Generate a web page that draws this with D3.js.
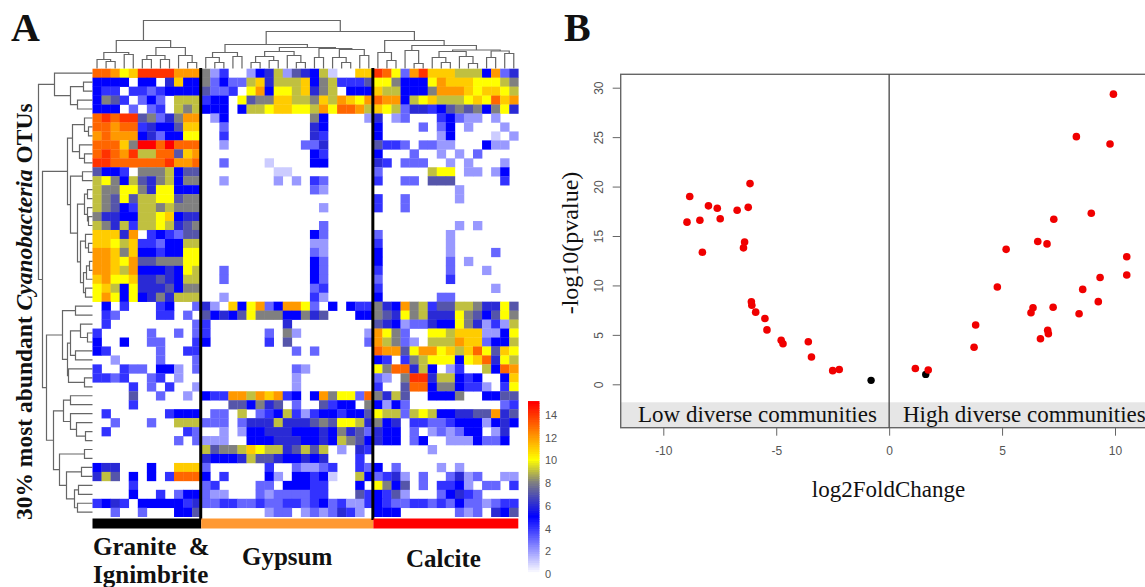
<!DOCTYPE html>
<html>
<head>
<meta charset="utf-8">
<style>
  body { margin: 0; background: #fff; }
  svg { display: block; }
  .serif { font-family: "Liberation Serif", serif; fill: #111; }
  .sans { font-family: "Liberation Sans", sans-serif; fill: #555; font-size: 12px; }
</style>
<script src="https://cdn.jsdelivr.net/npm/d3@7"></script>
</head>
<body>
<svg id="figure" width="1145" height="587">
  <defs>
    <filter id="soft" x="0" y="0" width="100%" height="100%">
      <feGaussianBlur stdDeviation="0.45"></feGaussianBlur>
    </filter>
  </defs>
</svg>
<script>
// Heatmap values, one hex digit per cell (0-15), one string per OTU row
const graniteRows = [
  "ddcabeeeeccc", "555505506b55", "544044345555", "587403530999", "555030340989",
  "dedee78368cc", "ddcdd46557bb", "cdccc56355aa", "dddb8ffdfddd", "dedce99dd7bc",
  "eeddddddeccd", "755408889577", "9a8597689588", "988aa86aa555", "987a799aa788",
  "987549989888", "8665599ab566", "9869499a9678", "bbb6c0454377", "bba9b4435599",
  "ccb8b55455aa", "ccbac77888aa", "ccb9c55565a9", "bcaab6676599", "ab95a6667588",
  "aca5a5686999", "050400045003", "043000044030", "040000000003", "400000300303",
  "500500330004", "540000030044", "002000030003", "400433055203", "443400340200",
  "000040304002", "000070030020", "000040000000", "040000004555", "003000300999",
  "040000000043", "000000000303", "000000000000", "000000000000", "566000500bbb",
  "697050504ddd", "000040000000", "000050040355", "456405555546", "003003000557"
];
const gypsumRows = [
  "82400256927659100bb", "835339b6999b5894447", "73340ac5aa9b6890555", "4550a788bb998b9cbac", "5550599abbaa9caddc9",
  "0250000000008500002", "0030000000006500000", "0040000000006400000", "0020000000033600000", "0000000000005400000",
  "0030000100005500000", "0000000011000000000", "0020000020204300000", "0000000000003200000", "0000000000000000000",
  "0000000000000200000", "0000000000000000000", "0000000000000300000", "0000000000005300000", "0000000000002200000",
  "0000000000003200000", "0000000000005300000", "0030000000005300000", "0030000000005300000", "0000000000003400000",
  "0020000000004200000", "620b5ac35cca3050544", "75657a8885586700055", "4000000006000000000", "4000000308200000002",
  "5000000407000000003", "0000000000303000000", "0000000000000000000", "0000000000320000000", "0000000000200000000",
  "0000000000200000000", "544cc9cbc4505c8aa3d", "0007758670300745508", "0330903459424554557", "333036669666787aa96",
  "0020255666555658673", "2220055566655659875", "97889ba996797902064", "6555697765565600040", "3000000400322340043",
  "5040000520554510095", "3400003305554400050", "3220003233334400074", "3344334334434534224", "0000000233023236420"
];
const calciteRows = [
  "eda3cebbb9995c36", "aa8555acbbbaaa98", "b995558cccbabba9", "dcc59ab999abadbc", "ba936645787858a6",
  "6023000453220200", "5000030350200020", "5000000250000102", "7443033220005220", "5000300202030000",
  "6403330020200020", "3000009aa0220250", "4003307770000040", "0000000002000000", "4003000002000000",
  "4003000000000000", "0000000000000000", "0000000002020000", "3000000020000000", "4000000020000000",
  "5000000020000300", "5000000030200000", "4000000030002000", "3000000040000000", "4000000000000200",
  "5000000330000000", "865c8947799866a7", "876a89666a8757a8", "765233655a862429", "ca8300aa9bbb225a",
  "c98320999cbb3559", "dcc7accab9bda7ba", "540489aaa5abd6a9", "a8dd6950240095dc", "3208ee699545005b",
  "4007dd588544204a", "8697005558005577", "5253000000000034", "a9939a9556677c67", "8560443345552565",
  "6550302323550260", "6550350022253350", "0000002000000000", "0000000000000000", "5030000202000000",
  "3462030036230022", "a857030445203304", "5472000356430000", "5433443435332344", "5550000003230657"
];

// Dendrograms: [height, left, right], 0 is a leaf. Leaves go in heatmap order
const graniteTree = [28, [16, [9, 0, [7, 0, 0]], [14, 0, 0]], [21, [13, [9, 0, 0], [9, 0, 0]], [13, 0, [6, 0, 0]]]];
const gypsumTree = [24,
  [16, [11, 0, [6, 0, 0]], [12, 0, 0]],
  [21,
    [17, [12, [6, 0, 0], [8, 0, 0]], [13, 0, [6, 0, 0]]],
    [20, [11, 0, 0], [19, [11, 0, [6, 0, 0]], [13, 0, 0]]]]];
const calciteTree = [28,
  [16, 0, [8, 0, 0]],
  [23,
    [18, 0, [5, 0, 0]],
    [18.5,
      [17, [11, 0, [6, 0, 0]], [12, 0, [5, 0, 0]]],
      [17.5, [11, 0, 0], [15, 0, 0]]]]];
const columnTree = [48, graniteTree, [37, gypsumTree, calciteTree]];

const topRowsTree = [38, 0, [22, [9, 0, 0], [15, 0, 0]]];
const middleRowsTree = [25,
  [20, [8, 0, [4, 0, 0]], [13, 0, [8, 0, 0]]],
  [22, [10, 0, 0],
    [15,
      [8, [5, 0, 0], [5, 0, [4, 0, 0]]],
      [12, [7, 0, [4, 0, 0]], [9, [6, [3, 0, 0], 0], [7, 0, 0]]]]]];
const lowerRowsTree = [46,
  [30, [17, 0, 0], [25, [22, [12, 0, [5, 0, 0]], [17, 0, 0]], [24, 0, [8, 0, 0]]]],
  [39,
    [29, [22, 0, 0], [22, 0, [16, 0, [7, 0, 0]]]],
    [33, [8, 0, 0], [26, [11, 0, 0], [18, [14, 0, 0], [15, 0, 0]]]]]];
const rowTree = [54, topRowsTree, [50, middleRowsTree, lowerRowsTree]];

const legendTicks = [0, 2, 4, 6, 8, 10, 12, 14];

// Panel B, volcano plot
const redFold = [-8.95, -8.83, -8.38, -8.27, -8.0, -7.61, -7.48, -6.73, -6.24, -6.16, -6.4, -6.45,
  -6.1, -6.08, -5.91, -5.5, -5.41, -4.78, -4.7, -3.58, -3.44, -2.5, -2.21,
  9.93, 8.29, 9.78, 8.95, 7.29, 6.58, 6.99, 5.18, 10.52, 10.52, 9.34, 4.79, 8.57, 9.26,
  6.37, 6.28, 7.26, 8.41, 3.83, 3.76, 7.02, 7.05, 6.7, 1.16, 1.73];
const redP = [16.4, 19.0, 16.6, 13.35, 18.05, 17.8, 16.75, 17.6, 17.9, 20.3, 14.4, 13.8,
  8.35, 8.0, 7.3, 6.65, 5.5, 4.45, 4.1, 4.3, 2.76, 1.38, 1.5,
  29.35, 25.05, 24.3, 17.3, 16.7, 14.45, 14.2, 13.65, 12.9, 11.05, 10.8, 9.84, 9.6, 8.36,
  7.75, 7.24, 7.8, 7.14, 6.0, 3.74, 5.46, 5.12, 4.6, 1.6, 1.44];
const blackFold = [-0.8, 1.62];
const blackP = [0.4, 1.0];
const foldTicks = [-10, -5, 0, 5, 10];
const pTicks = [0, 5, 10, 15, 20, 25, 30];

const svg = d3.select("#figure");

// Panel letters
svg.append("text").attr("class", "serif").attr("x", 11).attr("y", 41)
  .style("font-size", "40px").style("font-weight", "bold").text("A");
svg.append("text").attr("class", "serif").attr("x", 564).attr("y", 41)
  .style("font-size", "40px").style("font-weight", "bold").text("B");

// ---------- Panel A ----------
const matrix = graniteRows.map((r, i) => (r + gypsumRows[i] + calciteRows[i]).split("").map(c => parseInt(c, 16)));
const nCols = matrix[0].length;
const nRows = matrix.length;

const colScale = d3.scaleBand().domain(d3.range(nCols)).range([92.5, 518.3]);
const rowScale = d3.scaleBand().domain(d3.range(nRows)).range([68.7, 516.7]);
const heatColor = d3.scaleLinear()
  .domain([0, 5, 8, 10, 15])
  .range(["#ffffff", "#0000ff", "#808080", "#ffff00", "#ff0000"]);

const cells = matrix.flatMap((row, r) => row.map((v, c) => ({ r, c, v })));
svg.append("g").attr("filter", "url(#soft)").selectAll("rect")
  .data(cells.filter(d => d.v > 0))
  .enter()
  .append("rect")
  .attr("x", d => colScale(d.c))
  .attr("y", d => rowScale(d.r))
  .attr("width", colScale.bandwidth() + 0.3)
  .attr("height", rowScale.bandwidth() + 0.3)
  .attr("fill", d => heatColor(d.v));

// Walk a dendrogram and give back one path per merge
function treeSegments(tree, leafPos, heightPos, horizontal) {
  let leaf = 0;
  const segments = [];
  function walk(node) {
    if (node === 0) return { pos: leafPos(leaf++), h: 0 };
    const a = walk(node[1]);
    const b = walk(node[2]);
    const pts = [[a.pos, a.h], [a.pos, node[0]], [b.pos, node[0]], [b.pos, b.h]];
    segments.push(pts.map(p => horizontal ? [heightPos(p[1]), p[0]] : [p[0], heightPos(p[1])]));
    return { pos: (a.pos + b.pos) / 2, h: node[0] };
  }
  walk(tree);
  return segments;
}

const colHeight = d3.scaleLinear().domain([0, 48]).range([68.5, 20.5]);
const rowHeight = d3.scaleLinear().domain([0, 54]).range([92.5, 38.5]);
const segLine = d3.line();

const topSegs = treeSegments(columnTree, i => colScale(i) + colScale.bandwidth() / 2, colHeight, false);
const leftSegs = treeSegments(rowTree, i => rowScale(i) + rowScale.bandwidth() / 2, rowHeight, true);
svg.append("g").selectAll("path")
  .data(topSegs.concat(leftSegs))
  .enter()
  .append("path")
  .attr("d", segLine)
  .attr("fill", "none")
  .attr("stroke", "#666")
  .attr("stroke-width", 1.2);

// Rock type bar under the heatmap and the separators
const groups = [
  { size: graniteRows[0].length, color: "#000000" },
  { size: gypsumRows[0].length, color: "#ff9933" },
  { size: calciteRows[0].length, color: "#ff0000" }
];
let firstCol = 0;
groups.forEach((g, i) => {
  const x0 = colScale(firstCol);
  firstCol += g.size;
  const x1 = firstCol < nCols ? colScale(firstCol) : colScale.range()[1];
  svg.append("rect").attr("x", x0).attr("y", 518.5).attr("width", x1 - x0).attr("height", 10).attr("fill", g.color);
  if (firstCol < nCols) {
    svg.append("line")
      .attr("x1", x1 - 0.5).attr("x2", x1 - 0.5)
      .attr("y1", 68).attr("y2", 520)
      .attr("stroke", "#000").attr("stroke-width", 3);
  }
});

// Colour key
const legendY = d3.scaleLinear().domain([0, 14]).range([574, 415]);
svg.append("g").selectAll("rect")
  .data(d3.range(0, 15.2, 0.2))
  .enter()
  .append("rect")
  .attr("x", 528)
  .attr("y", d => legendY(d) - 2.6)
  .attr("width", 11.5)
  .attr("height", 3)
  .attr("fill", d => heatColor(d));
const legendAxis = svg.append("g").attr("class", "sans")
  .attr("transform", "translate(541,0)")
  .call(d3.axisRight(legendY).tickValues(legendTicks).tickSize(0).tickPadding(4));
legendAxis.select(".domain").remove();
legendAxis.selectAll("text").attr("fill", "#555").style("font-size", "11px");

// Panel A text
svg.append("text").attr("class", "serif")
  .attr("transform", "translate(32,520) rotate(-90)")
  .style("font-size", "23.5px").style("font-weight", "bold")
  .call(t => {
    t.append("tspan").text("30% most abundant ");
    t.append("tspan").style("font-style", "italic").text("Cyanobacteria");
    t.append("tspan").text(" OTUs");
  });

const groupLabels = [
  { text: "Granite  &", x: 93, y: 555 },
  { text: "Ignimbrite", x: 93, y: 583 },
  { text: "Gypsum", x: 242, y: 565 },
  { text: "Calcite", x: 406, y: 567 }
];
svg.append("g").selectAll("text")
  .data(groupLabels)
  .enter()
  .append("text")
  .attr("class", "serif")
  .attr("x", d => d.x)
  .attr("y", d => d.y)
  .style("font-size", "25px")
  .style("font-weight", "bold")
  .style("white-space", "pre")
  .text(d => d.text);

// ---------- Panel B ----------
const x = d3.scaleLinear().domain([-10, 10]).range([663.3, 1115]);
const y = d3.scaleLinear().domain([0, 30]).range([384.3, 87.7]);
const plotLeft = 620.7, plotTop = 74.3, plotBottom = 427.7, plotRight = 1147;

svg.append("rect")
  .attr("x", plotLeft).attr("y", 402.3)
  .attr("width", plotRight - plotLeft).attr("height", plotBottom - 402.3)
  .attr("fill", "#e6e6e6");

svg.append("rect")
  .attr("x", plotLeft).attr("y", plotTop)
  .attr("width", plotRight - plotLeft).attr("height", plotBottom - plotTop)
  .attr("fill", "none").attr("stroke", "#666").attr("stroke-width", 1.4);

svg.append("line")
  .attr("x1", x(0)).attr("x2", x(0))
  .attr("y1", plotTop).attr("y2", plotBottom)
  .attr("stroke", "#444").attr("stroke-width", 1.3);

svg.append("text").attr("class", "serif").attr("x", 638).attr("y", 421.5)
  .style("font-size", "23px").text("Low diverse communities");
svg.append("text").attr("class", "serif").attr("x", 903).attr("y", 421.5)
  .style("font-size", "23px").text("High diverse communities");

const xAxis = svg.append("g").attr("class", "sans")
  .attr("transform", `translate(0,${plotBottom})`)
  .call(d3.axisBottom(x).tickValues(foldTicks).tickFormat(d => String(d)).tickSize(8).tickPadding(11).tickSizeOuter(0));
xAxis.select(".domain").remove();
xAxis.selectAll("line").attr("stroke", "#666");
xAxis.selectAll("text").attr("fill", "#555").style("font-size", "12px");

const yAxis = svg.append("g").attr("class", "sans")
  .attr("transform", `translate(${plotLeft},0)`)
  .call(d3.axisLeft(y).tickValues(pTicks).tickSize(8));
yAxis.select(".domain").remove();
yAxis.selectAll("line").attr("stroke", "#666");
yAxis.selectAll("text")
  .attr("fill", "#555")
  .style("font-size", "12px")
  .attr("text-anchor", "middle")
  .attr("dy", 0)
  .attr("x", 0)
  .attr("y", 0)
  .attr("transform", "translate(-18,0) rotate(-90)");

svg.append("g").selectAll("circle")
  .data(blackFold.map((f, i) => [f, blackP[i]]))
  .enter()
  .append("circle")
  .attr("cx", d => x(d[0]))
  .attr("cy", d => y(d[1]))
  .attr("r", 3.7)
  .attr("fill", "#000");

svg.append("g").selectAll("circle")
  .data(redFold.map((f, i) => [f, redP[i]]))
  .enter()
  .append("circle")
  .attr("cx", d => x(d[0]))
  .attr("cy", d => y(d[1]))
  .attr("r", 3.8)
  .attr("fill", "#f00000");

svg.append("text").attr("class", "serif")
  .attr("transform", "translate(578,243) rotate(-90)")
  .attr("text-anchor", "middle")
  .style("font-size", "24px").text("-log10(pvalue)");
svg.append("text").attr("class", "serif")
  .attr("x", 888.5).attr("y", 497)
  .attr("text-anchor", "middle")
  .style("font-size", "23px").text("log2FoldChange");
</script>
</body>
</html>
